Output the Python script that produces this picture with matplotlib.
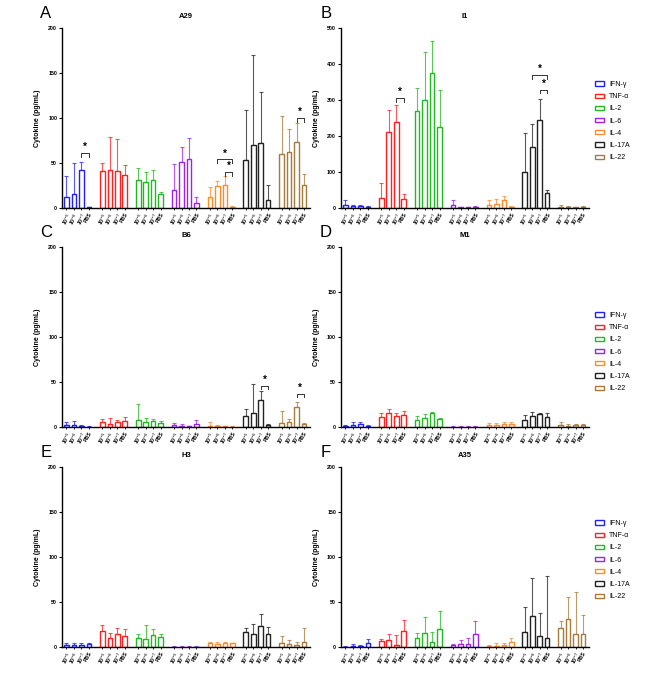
import matplotlib
matplotlib.use("Agg")
import matplotlib.pyplot as plt
from matplotlib.patches import Patch
import numpy as np

plt.rcParams['font.family'] = ['Liberation Sans', 'DejaVu Sans']

cytokines = ['IFN-γ', 'TNF-α', 'IL-2', 'IL-6', 'IL-4', 'IL-17A', 'IL-22']
colors = ['#1f1fff', '#ff2020', '#22b822', '#a020f0', '#ff8c28', '#222222', '#a87a3c']
doses = [r'10$^{-5}$', r'10$^{-6}$', r'10$^{-7}$', 'PBS']

# mean values per cytokine (rows) and dose (cols)
a29_mean = [[12, 16, 42, 1], [41, 42, 41, 37], [31, 29, 31, 15], [20, 51, 54, 6],
            [12, 24, 26, 1.5], [53, 70, 72, 9], [60, 62.5, 73, 26]]
a29_sd = [[23, 34, 9, 0.5], [9, 37, 36, 11], [13, 11, 11, 3], [29, 17, 24, 6],
          [11, 6, 9, 1], [56, 100, 57, 16.5], [42, 25.5, 21, 12]]

i1_mean = [[7, 5, 5, 3], [29, 210, 238, 25], [268, 300, 375, 226], [8, 2, 2, 2],
           [9, 11, 22, 3], [99, 170, 244, 41.5], [3, 2, 2, 2]]
i1_sd = [[15, 3, 3, 2], [41, 61, 47, 14], [64, 132, 89, 101], [14, 1, 2, 3],
         [13, 14, 10, 2], [108, 64, 58, 7.5], [4, 3, 1, 3]]

b6_mean = [[2, 2, 1, 0.5], [5, 3, 6, 7], [7.5, 6, 7, 4], [2, 1.5, 1, 3],
           [1.5, 1, 0.8, 0.5], [12, 16, 30, 2], [4, 5, 22.5, 3]]
b6_sd = [[3, 5, 1, 0.5], [4, 7, 2, 4], [18.5, 4, 2, 3], [2, 1.5, 0.3, 5],
         [3.5, 1, 0.3, 0.2], [8, 32, 9.5, 1.5], [14, 4, 5.5, 1]]

m1_mean = [[1, 2.5, 3.5, 1], [11, 15, 12.5, 13], [8, 9.5, 15, 9], [0.5, 0.5, 0.5, 0.5],
           [2.5, 2.5, 3.5, 3.5], [8, 12.5, 14, 11], [2, 1.5, 2, 2.5]]
m1_sd = [[1, 3.5, 1.5, 1], [4, 5, 3.5, 4.5], [4, 4.5, 2, 1], [0.3, 0.3, 0.3, 0.3],
         [2, 1.5, 1.5, 2.5], [5.5, 4.5, 1, 4.5], [3, 2, 1.5, 1]]

h3_mean = [[2.5, 2.5, 2.5, 3], [18, 9.5, 15, 12], [10, 9, 13.5, 11.5], [0.5, 0.5, 0.5, 0.5],
           [5, 3.5, 4, 4.5], [16.5, 14, 23.5, 14.5], [4.5, 3, 2, 6]]
h3_sd = [[1.5, 2.5, 1.5, 2], [6, 6.5, 6, 8.5], [5, 15, 7, 2.5], [0.2, 0.2, 0.2, 0.2],
         [1, 2.5, 2, 0.5], [4.5, 11.5, 13.5, 7.5], [8, 4.5, 4, 15]]

a35_mean = [[0.5, 1, 1, 4], [6.5, 8, 2.5, 18], [10, 16, 6, 19.5], [2, 3, 3.5, 14],
            [1, 1.5, 2, 5.5], [16.5, 35, 12.5, 10], [21, 31, 14.5, 15]]
a35_sd = [[0.5, 2, 1, 5], [2, 6, 10.5, 11.5], [5.5, 17, 11, 20], [1, 5, 6.5, 15],
          [1, 2.5, 2, 4.5], [28.5, 42, 25.5, 69], [7.5, 25, 46.5, 20.5]]

# significance: (cytokine index, dose from, dose to, bracket level)
a29_sig = [(0, 2, 3, 61), (4, 1, 3, 54), (4, 2, 3, 40), (6, 2, 3, 100)]
i1_sig = [(1, 2, 3, 305), (5, 1, 3, 369), (5, 2, 3, 328)]
b6_sig = [(5, 2, 3, 46), (6, 2, 3, 37)]

panels = [
    ('A', 'A29', a29_mean, a29_sd, a29_sig, 200, None),
    ('B', 'I1', i1_mean, i1_sd, i1_sig, 500, 0.483),
    ('C', 'B6', b6_mean, b6_sd, b6_sig, 200, None),
    ('D', 'M1', m1_mean, m1_sd, [], 200, 0.416),
    ('E', 'H3', h3_mean, h3_sd, [], 200, None),
    ('F', 'A35', a35_mean, a35_sd, [], 200, 0.483),
]

fig = plt.figure(figsize=(6.69, 6.77), dpi=100)

lefts = [0.0927, 0.5097]
bottoms = [0.6928, 0.3693, 0.0443]
w, h = 0.3707, 0.2659

pitch = 4.8
xs = np.array([[g * pitch + i for i in range(4)] for g in range(7)])

for k, (letter, title, mean, sd, sig, ymax, leg_y) in enumerate(panels):
    ax = fig.add_axes([lefts[k % 2], bottoms[k // 2], w, h])
    mean = np.array(mean, dtype=float)
    sd = np.array(sd, dtype=float)
    for g in range(7):
        ax.bar(xs[g], mean[g], width=0.62, facecolor='white', edgecolor=colors[g],
               linewidth=1.0, zorder=2)
        ax.errorbar(xs[g], mean[g], yerr=[np.zeros(4), sd[g]], fmt='none',
                    ecolor=colors[g], elinewidth=0.8, capsize=1.5, capthick=0.8,
                    alpha=0.75, zorder=1)
    for g, i, j, lev in sig:
        tick = ymax * 0.02
        ax.plot([xs[g][i], xs[g][i], xs[g][j], xs[g][j]],
                [lev - tick, lev, lev, lev - tick], color='#333333', lw=0.7)
        ax.text((xs[g][i] + xs[g][j]) / 2, lev + ymax * 0.005, '*', ha='center',
                va='bottom', fontsize=7, fontweight='bold')

    ax.set_xlim(-0.6, xs[-1][-1] + 0.8)
    ax.set_ylim(0, ymax)
    ax.set_yticks(np.linspace(0, ymax, 5) if ymax == 200 else np.arange(0, 501, 100))
    ax.set_xticks(xs.flatten())
    ax.set_xticklabels(doses * 7, rotation=60, ha='right', rotation_mode='anchor',
                       fontsize=3.8, fontweight='bold')
    ax.tick_params(axis='y', labelsize=3.8, length=2.5, width=0.8, pad=1)
    ax.tick_params(axis='x', length=1.5, width=0.6, pad=1)
    for lab in ax.get_yticklabels():
        lab.set_fontweight('bold')
    for s in ['top', 'right']:
        ax.spines[s].set_visible(False)
    ax.spines['left'].set_linewidth(1.0)
    ax.spines['bottom'].set_linewidth(1.0)
    ax.set_ylabel('Cytokine (pg/mL)', fontsize=5, fontweight='bold', labelpad=5)
    ax.set_title(title, fontsize=5.5, fontweight='bold', pad=7)
    ax.text(-0.065 if k % 2 == 0 else -0.06, 1.078, letter, transform=ax.transAxes,
            fontsize=12, ha='center', va='center')

    if leg_y is not None:
        handles = [Patch(facecolor='white', edgecolor=c, linewidth=1.0) for c in colors]
        ax.legend(handles, cytokines, loc='center left', bbox_to_anchor=(1.0, leg_y),
                  frameon=False, fontsize=5, handlelength=1.3, handleheight=0.55,
                  labelspacing=0.75, handletextpad=0.8, borderaxespad=0.4)

fig.savefig('out.png', dpi=100)
